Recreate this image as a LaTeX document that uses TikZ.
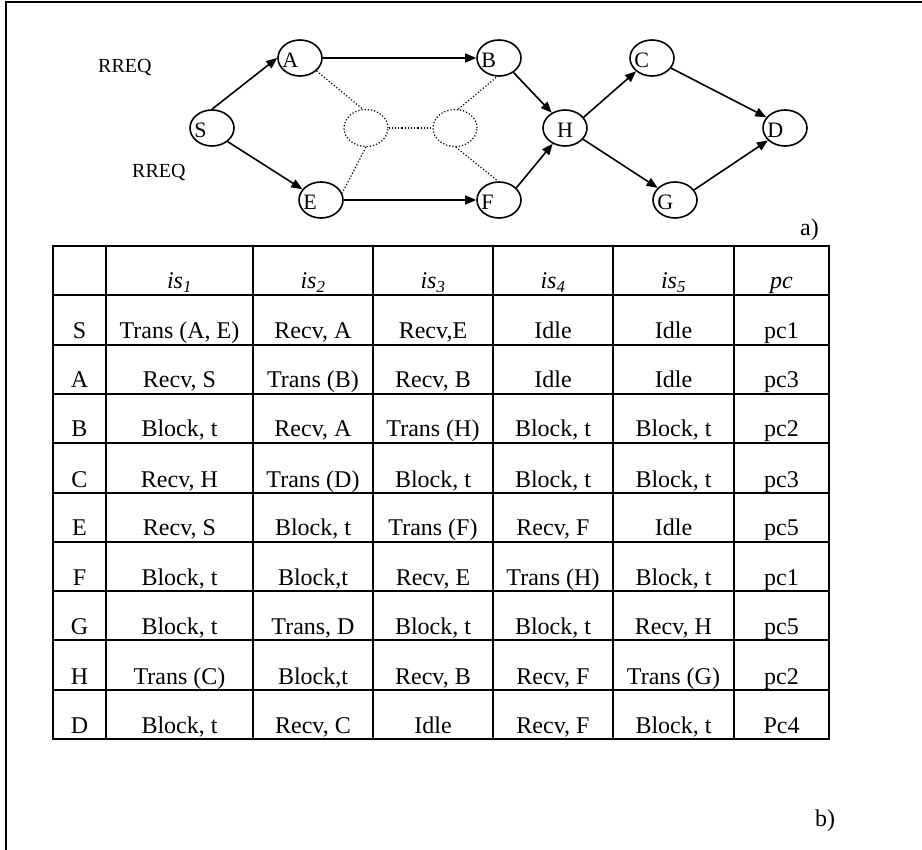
\documentclass[tikz,border=0pt]{standalone}
\usepackage{fontspec}
\setmainfont{Liberation Serif}
\usetikzlibrary{shapes.geometric,arrows.meta}
\begin{document}
\begin{tikzpicture}[x=1pt,y=-1pt,
  gn/.style={ellipse,draw,line width=1.6pt,minimum width=44pt,minimum height=36pt,inner sep=0pt,
    label={[anchor=west,xshift=5pt,yshift=-2pt,font=\fontsize{22}{26}\selectfont,inner sep=0pt]west:#1}},
  gc/.style={ellipse,draw,line width=1.6pt,minimum width=44pt,minimum height=36pt,inner sep=0pt,
    label={[anchor=center,yshift=-2pt,font=\fontsize{22}{26}\selectfont,inner sep=0pt]center:#1}},
  dn/.style={ellipse,draw,dotted,line width=1.2pt,minimum width=44pt,minimum height=37pt,inner sep=0pt},
  arr/.style={line width=1.6pt,-{Triangle[length=11pt,width=9pt]}},
  dl/.style={dotted,line width=1.2pt},
  gridline/.style={line width=2.5pt},
  cell/.style={anchor=base,font=\fontsize{24}{28}\selectfont,inner sep=0pt},
  txt/.style={anchor=base west,inner sep=0pt}
]
\useasboundingbox (0,0) rectangle (922,850);
% frame
\draw[line width=2pt] (6,850) -- (6,2) -- (922,2);

% graph nodes
\node[gn=S] (S) at (212,128) {};
\node[gn=A] (A) at (300,58) {};
\node[gn=E] (E) at (321,200) {};
\node[dn] (L) at (366,128) {};
\node[dn] (R) at (455,128) {};
\node[gn=B] (B) at (499,58) {};
\node[gn=F] (F) at (499,200) {};
\node[gc=H] (H) at (565,128) {};
\node[gn=C] (C) at (652,58) {};
\node[gn=G] (G) at (675,200) {};
\node[gn=D] (D) at (785,128) {};

% labels
\node[txt,font=\fontsize{20}{24}\selectfont] (rq1) at (98,73) {RREQ};
\node[txt,font=\fontsize{20}{24}\selectfont] (rq2) at (132,178) {RREQ};
\node[txt,font=\fontsize{24}{28}\selectfont] (la) at (800,236) {a)};
\node[txt,font=\fontsize{24}{28}\selectfont] (lb) at (815,826) {b)};

% solid edges
\draw[arr] (S.north) -- (A.west);
\draw[arr] (S.-41) -- (E.150);
\draw[arr] (A.east) -- (B.west);
\draw[arr] (E.east) -- (F.west);
\draw[arr] (B.-45) -- (H.131);
\draw[arr] (F.35) -- (H.-128);
\draw[arr] (H.30) -- (C.-140);
\draw[arr] (H.-32) -- (G.145);
\draw[arr] (C.-28) -- (D.150);
\draw[arr] (G.28) -- (D.-144);

% dotted edges
\draw[dl] (A.-38) -- (L.100);
\draw[dl] (L.-90) -- (E.18);
\draw[dl] (L.east) -- (R.west);
\draw[dl] (R.80) -- (B.-96);
\draw[dl] (R.-88) -- (F.93);

% table grid
\draw[gridline] (53,246) rectangle (829,739);
\foreach \x in {106,253,373,493,613,734}
  \draw[gridline] (\x,246) -- (\x,739);
\foreach \yy in {295,345,394,443,493,542,591,640,690}
  \draw[gridline] (53,\yy) -- (829,\yy);

% header
\node[cell] (h1) at (179.5,289) {\textit{is}\textsubscript{\textit{1}}};
\node[cell] (h2) at (313,289) {\textit{is}\textsubscript{\textit{2}}};
\node[cell] (h3) at (433,289) {\textit{is}\textsubscript{\textit{3}}};
\node[cell] (h4) at (553,289) {\textit{is}\textsubscript{\textit{4}}};
\node[cell] (h5) at (673.5,289) {\textit{is}\textsubscript{\textit{5}}};
\node[cell] (h6) at (781.5,289) {\textit{pc}};

% body
\foreach \l/\a/\b/\c/\d/\e/\p/\yb/\i in {
 S/{Trans (A, E)}/{Recv, A}/{Recv,E}/Idle/Idle/pc1/339/1,
 A/{Recv, S}/{Trans (B)}/{Recv, B}/Idle/Idle/pc3/388/2,
 B/{Block, t}/{Recv, A}/{Trans (H)}/{Block, t}/{Block, t}/pc2/437/3,
 C/{Recv, H}/{Trans (D)}/{Block, t}/{Block, t}/{Block, t}/pc3/487/4,
 E/{Recv, S}/{Block, t}/{Trans (F)}/{Recv, F}/Idle/pc5/536/5,
 F/{Block, t}/{Block,t}/{Recv, E}/{Trans (H)}/{Block, t}/pc1/585/6,
 G/{Block, t}/{Trans, D}/{Block, t}/{Block, t}/{Recv, H}/pc5/634/7,
 H/{Trans (C)}/{Block,t}/{Recv, B}/{Recv, F}/{Trans (G)}/pc2/684/8,
 D/{Block, t}/{Recv, C}/Idle/{Recv, F}/{Block, t}/Pc4/733/9}
{
 \node[cell] (r\i-0) at (79.5,\yb) {\l};
 \node[cell] (r\i-1) at (179.5,\yb) {\a};
 \node[cell] (r\i-2) at (313,\yb) {\b};
 \node[cell] (r\i-3) at (433,\yb) {\c};
 \node[cell] (r\i-4) at (553,\yb) {\d};
 \node[cell] (r\i-5) at (673.5,\yb) {\e};
 \node[cell] (r\i-6) at (781.5,\yb) {\p};
}
\end{tikzpicture}
\end{document}
